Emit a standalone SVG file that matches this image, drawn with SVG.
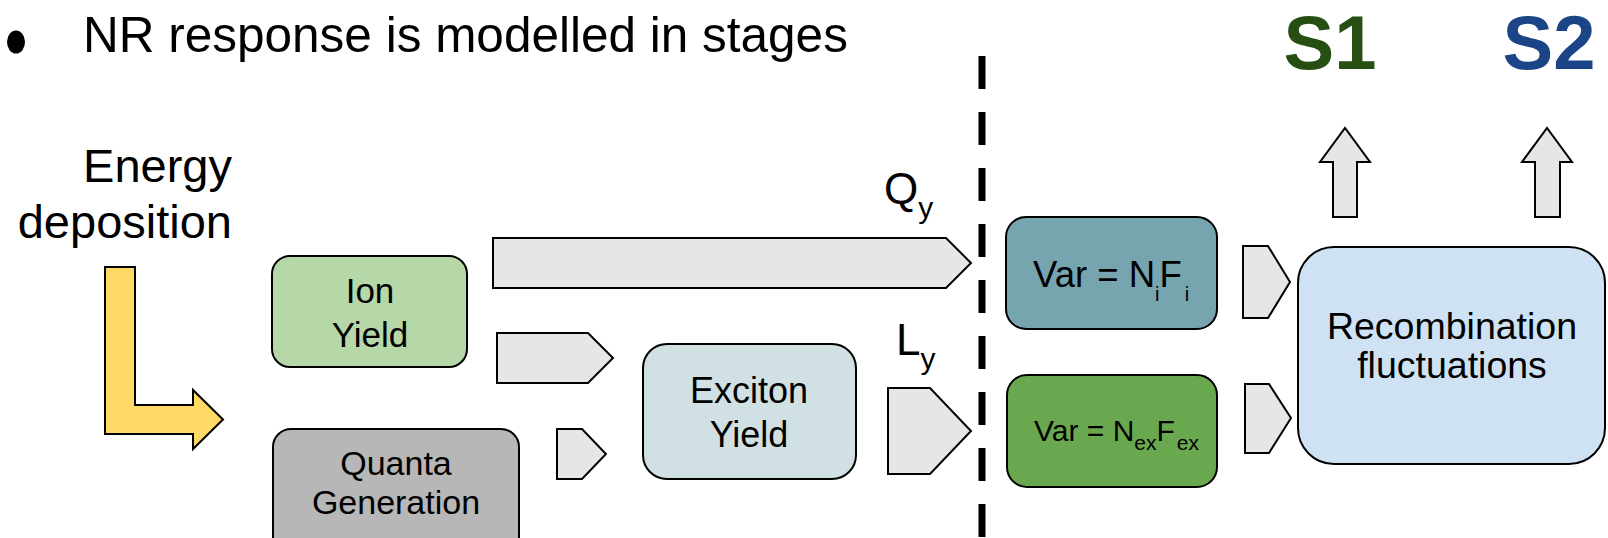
<svg xmlns="http://www.w3.org/2000/svg" width="1608" height="538" viewBox="0 0 1608 538">
  <style>
    text { font-family: "Liberation Sans", Arial, sans-serif; fill: #000; }
    .box { stroke: #000; stroke-width: 2; }
    .flow { fill: #e6e6e6; stroke: #000; stroke-width: 2; stroke-linejoin: miter; }
    .lbl { text-anchor: middle; }
  </style>

  <rect width="1608" height="538" fill="#ffffff"/>

  <!-- heading bullet -->
  <g id="heading">
    <ellipse cx="16" cy="42" rx="9" ry="11.5" fill="#000"/>
    <text x="83" y="52" font-size="49.5">NR response is modelled in stages</text>
  </g>

  <!-- input label -->
  <g id="energy">
    <text x="232" y="182" font-size="47" text-anchor="end">Energy</text>
    <text x="232" y="238" font-size="47" text-anchor="end">deposition</text>
  </g>

  <!-- stage divider -->
  <line x1="982" y1="56" x2="982" y2="538" stroke="#000" stroke-width="7" stroke-dasharray="33 23"/>

  <!-- connectors -->
  <g id="connectors">
    <path d="M105,267 L135,267 L135,405 L193,405 L193,390 L223,419.5 L193,449 L193,434 L105,434 Z" fill="#ffd966" stroke="#000" stroke-width="2"/>
    <path class="flow" d="M493,238 L946,238 L971,263 L946,288 L493,288 Z"/>
    <path class="flow" d="M497,333 L588,333 L613,358 L588,383 L497,383 Z"/>
    <path class="flow" d="M557,429 L582,429 L606,454 L582,479 L557,479 Z"/>
    <path class="flow" d="M888,388 L930,388 L971,431 L930,474 L888,474 Z"/>
    <path class="flow" d="M1243,246 L1268,246 L1290,282 L1268,318 L1243,318 Z"/>
    <path class="flow" d="M1245,384 L1269,384 L1291,418 L1269,453 L1245,453 Z"/>
    <path class="flow" d="M1333,217 L1333,162 L1320,162 L1345,128 L1370,162 L1357,162 L1357,217 Z"/>
    <path class="flow" d="M1535,217 L1535,162 L1522,162 L1547,128 L1572,162 L1560,162 L1560,217 Z"/>
  </g>

  <!-- yield labels -->
  <g id="label-qy">
    <text x="884" y="204" font-size="44">Q<tspan dy="14" font-size="30">y</tspan></text>
  </g>
  <g id="label-ly">
    <text x="896" y="355" font-size="44">L<tspan dy="14" font-size="30">y</tspan></text>
  </g>

  <g id="ion-yield">
    <rect class="box" x="272" y="256" width="195" height="111" rx="18" fill="#b6d7a8"/>
    <text class="lbl" x="370" y="303" font-size="35">Ion</text>
    <text class="lbl" x="370" y="347" font-size="35">Yield</text>
  </g>

  <g id="quanta-generation">
    <rect class="box" x="273" y="429" width="246" height="140" rx="18" fill="#b7b7b7"/>
    <text class="lbl" x="396" y="475" font-size="34">Quanta</text>
    <text class="lbl" x="396" y="514" font-size="34">Generation</text>
  </g>

  <g id="exciton-yield">
    <rect class="box" x="643" y="344" width="213" height="135" rx="24" fill="#d0e0e3"/>
    <text class="lbl" x="749" y="403" font-size="36">Exciton</text>
    <text class="lbl" x="749" y="447" font-size="36">Yield</text>
  </g>

  <g id="var-ion">
    <rect class="box" x="1006" y="217" width="211" height="112" rx="20" fill="#76a5af"/>
    <text x="1033" y="287" font-size="36.5">Var = N<tspan dy="14" font-size="20">i</tspan><tspan dy="-14">F</tspan><tspan dx="3" dy="14" font-size="20">i</tspan></text>
  </g>

  <g id="var-exciton">
    <rect class="box" x="1007" y="375" width="210" height="112" rx="20" fill="#6aa84f"/>
    <text x="1034" y="441" font-size="30">Var = N<tspan dy="9" font-size="21">ex</tspan><tspan dy="-9">F</tspan><tspan dx="2" dy="9" font-size="21">ex</tspan></text>
  </g>

  <g id="recombination">
    <rect class="box" x="1298" y="247" width="307" height="217" rx="36" fill="#cfe2f3"/>
    <text x="1452" y="339" font-size="37.5" text-anchor="middle">Recombination</text>
    <text x="1452" y="378" font-size="37.5" text-anchor="middle">fluctuations</text>
  </g>

  <g id="signals">
    <text x="1330" y="69" font-size="76" font-weight="bold" text-anchor="middle" style="fill:#274e13">S1</text>
    <text x="1549" y="69" font-size="76" font-weight="bold" text-anchor="middle" style="fill:#1c4587">S2</text>
  </g>
</svg>
